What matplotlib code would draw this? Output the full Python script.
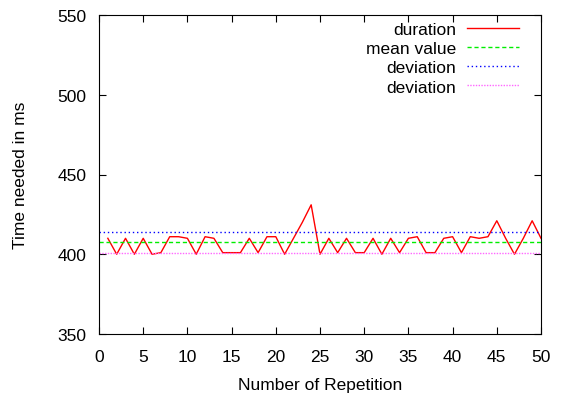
import numpy as np
import matplotlib
matplotlib.use("Agg")
import matplotlib.pyplot as plt

plt.rcParams['font.family'] = ['Liberation Sans', 'DejaVu Sans']

# measured durations per repetition (ms)
repetition = list(range(1, 51))
duration = [410, 400, 410, 400, 410, 400, 401, 411, 411, 410,
            400, 411, 410, 401, 401, 401, 410, 401, 411, 411,
            400, 410, 420, 431, 400, 410, 401, 410, 401, 401,
            410, 400, 410, 401, 410, 411, 401, 401, 410, 411,
            401, 411, 410, 411, 421, 410, 400, 410, 421, 410]
mean_value = 407.5
dev_upper = 414
dev_lower = 401

fig = plt.figure(figsize=(5.61, 4.02), dpi=100)
ax = fig.add_axes([99/561, 67/402, 442/561, 319/402])

ax.plot(repetition, duration, color='#ff0000', lw=1, label='duration')
ax.axhline(mean_value, color='#00ee00', lw=1, ls=(0, (3, 2)), label='mean value')
ax.axhline(dev_upper, color='#0000ff', lw=1, ls=(0, (1, 2)), label='deviation')
ax.axhline(dev_lower, color='#ff66ff', lw=1, ls=(0, (1, 1)), label='deviation')

ax.set_xlim(0, 50)
ax.set_ylim(350, 550)
ax.set_xticks(range(0, 51, 5))
ax.set_yticks(range(350, 551, 50))
ax.tick_params(direction='in', top=True, right=True, length=5, labelsize=12.5)
ax.tick_params(axis='x', pad=11)
ax.tick_params(axis='y', pad=9)
ax.set_xlabel('Number of Repetition', fontsize=12.5)
ax.set_ylabel('Time needed in ms', fontsize=12.5)
ax.xaxis.set_label_coords(0.5, -0.135)
ax.yaxis.set_label_coords(-0.161, 0.5)

ax.legend(loc='upper right', bbox_to_anchor=(0.966, 1.0), borderaxespad=0,
          frameon=False, markerfirst=False, fontsize=12.5,
          handlelength=3.0, labelspacing=0.23, handletextpad=0.63)

fig.savefig('out.png', dpi=100)
